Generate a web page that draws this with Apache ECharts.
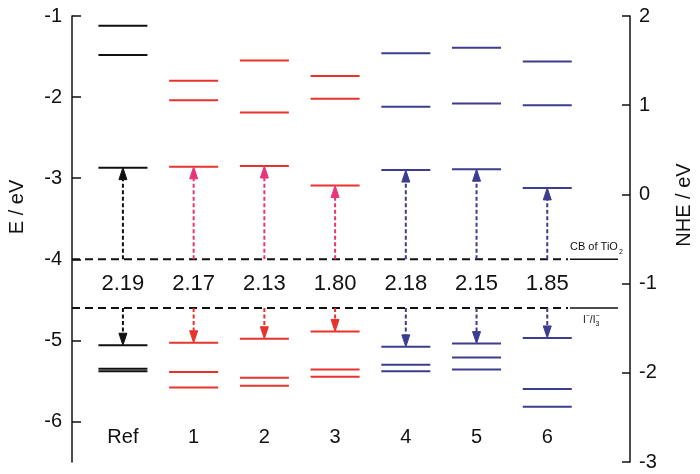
<!DOCTYPE html>
<html>
<head>
<meta charset="utf-8">
<script src="https://cdn.jsdelivr.net/npm/echarts@6/dist/echarts.min.js"></script>
<style>html,body{margin:0;padding:0;background:#fff}#c{width:700px;height:474px}</style>
</head>
<body>
<div id="c"></div>
<script>
// ---- data (energies in eV) ----
const categories = ['Ref', '1', '2', '3', '4', '5', '6'];
const upperLevels = [[-1.12, -1.48], [-1.80, -2.04], [-1.55, -2.19], [-1.74, -2.02], [-1.46, -2.12], [-1.39, -2.08], [-1.56, -2.10]];
const lumo = [-2.87, -2.86, -2.85, -3.09, -2.90, -2.89, -3.12];
const homo = [-5.06, -5.03, -4.98, -4.89, -5.08, -5.04, -4.97];
const lowerLevels = [[-5.35, -5.38], [-5.39, -5.58], [-5.46, -5.56], [-5.36, -5.45], [-5.30, -5.38], [-5.21, -5.36], [-5.60, -5.82]];
const gapLabels = ['2.19', '2.17', '2.13', '1.80', '2.18', '2.15', '1.85'];
const tio2CB = -4.0;
const redoxLevel = -4.6;
const leftTicks = [-6, -5, -4, -3, -2, -1];

// ---- styles ----
const FONT = '"Liberation Sans", Arial, sans-serif';
function lineColor(i) { return i === 0 ? '#111111' : (i <= 3 ? '#e8332c' : '#3d3d90'); }
function upColor(i) { return i === 0 ? '#111111' : (i <= 3 ? '#e8357a' : '#3d3d90'); }
function downColor(i) { return i === 0 ? '#111111' : (i <= 3 ? '#e8332c' : '#3d3d90'); }

const levelData = [];
categories.forEach((c, i) => {
  upperLevels[i].forEach(e => levelData.push([i, e]));
  levelData.push([i, lumo[i]]);
  levelData.push([i, homo[i]]);
  lowerLevels[i].forEach(e => levelData.push([i, e]));
});
const upArrows = categories.map((c, i) => [i, tio2CB, lumo[i]]);
const downArrows = categories.map((c, i) => [i, redoxLevel, homo[i]]);
const gapData = categories.map((c, i) => [i, (tio2CB + redoxLevel) / 2]);
const catLabelData = categories.map((c, i) => [i, -6.2]);
const refLines = [[0, tio2CB], [1, redoxLevel]];

const HALF = 24.5;

function arrowItem(colorFn, dir) {
  return function (params, api) {
    const i = api.value(0);
    const p0 = api.coord([i, api.value(1)]);
    const p1 = api.coord([i, api.value(2)]);
    const x = p0[0];
    const head = 12, hw = 4;
    const baseY = dir === 'up' ? p1[1] + head : p1[1] - head;
    const col = colorFn(i);
    return {
      type: 'group',
      children: [
        { type: 'line', shape: { x1: x, y1: p0[1], x2: x, y2: baseY },
          style: { stroke: col, lineWidth: 2, lineDash: [4, 2.5] } },
        { type: 'polygon', shape: { points: [[x, p1[1]], [x - hw, baseY], [x + hw, baseY]] },
          style: { fill: col, stroke: col, lineWidth: 1 } }
      ]
    };
  };
}

const chart = echarts.init(document.getElementById('c'), null, { renderer: 'canvas' });
const option = {
  backgroundColor: '#ffffff',
  animation: false,
  grid: { left: 72, right: 70, top: 16, bottom: 12 },
  xAxis: { type: 'value', min: -0.72, max: 7.17, show: false },
  yAxis: [
    {
      type: 'value', position: 'left', min: -6.5, max: -1,
      splitLine: { show: false },
      axisLine: { show: true, onZero: false, lineStyle: { color: '#111', width: 1.5 } },
      axisTick: { show: true, inside: true, length: 9, customValues: leftTicks, lineStyle: { color: '#111', width: 1.5 } },
      axisLabel: { customValues: leftTicks, color: '#111', fontSize: 20, fontFamily: FONT, margin: 10 }
    },
    {
      type: 'value', position: 'right', min: -3, max: 2, interval: 1,
      splitLine: { show: false },
      axisLine: { show: true, onZero: false, lineStyle: { color: '#111', width: 1.5 } },
      axisTick: { show: true, inside: true, length: 8, lineStyle: { color: '#111', width: 1.5 } },
      axisLabel: { color: '#111', fontSize: 20, fontFamily: FONT, margin: 9 }
    }
  ],
  graphic: [
    { type: 'text', x: 17, y: 207, rotation: Math.PI / 2,
      style: { text: 'E / eV', font: '20px ' + FONT, fill: '#111', align: 'center', verticalAlign: 'middle' } },
    { type: 'text', x: 684, y: 205, rotation: Math.PI / 2,
      style: { text: 'NHE / eV', font: '20px ' + FONT, fill: '#111', align: 'center', verticalAlign: 'middle' } }
  ],
  series: [
    {
      type: 'custom', name: 'refLines', data: refLines, encode: { x: 0, y: 1 }, clip: false, z: 2,
      renderItem: function (params, api) {
        const k = api.value(0);
        const y = api.coord([0, api.value(1)])[1];
        const cs = params.coordSys;
        const xL = cs.x, xR = cs.x + cs.width;
        const children = [
          { type: 'line', shape: { x1: xL, y1: y, x2: xR - 62, y2: y }, style: { stroke: '#111', lineWidth: 2, lineDash: [8, 5] } },
          { type: 'line', shape: { x1: xR - 60, y1: y, x2: xR - 12, y2: y }, style: { stroke: '#111', lineWidth: 1.5 } }
        ];
        if (k === 0) {
          children.push({ type: 'text', x: xR - 60, y: y - 4, style: {
            text: '{n|CB of TiO}{s|2}', fill: '#111', align: 'left', verticalAlign: 'bottom',
            rich: { n: { fontSize: 11, fontFamily: FONT, fill: '#111' }, s: { fontSize: 7, fontFamily: FONT, fill: '#111', padding: [9, 0, 0, 1] } }
          } });
        } else {
          children.push({ type: 'text', x: xR - 47, y: y + 4, style: {
            text: '{n|I}{p|−}{n|/I}{p|−}{s|3}', fill: '#111', align: 'left', verticalAlign: 'top',
            rich: { n: { fontSize: 10, fontFamily: FONT, fill: '#111' }, p: { fontSize: 7, fontFamily: FONT, fill: '#111', padding: [0, 0, 7, 0] }, s: { fontSize: 7, fontFamily: FONT, fill: '#111', padding: [9, 0, 0, -4] } }
          } });
        }
        return { type: 'group', children: children };
      }
    },
    {
      type: 'custom', name: 'levels', data: levelData, encode: { x: 0, y: 1 }, z: 3,
      renderItem: function (params, api) {
        const i = api.value(0);
        const p = api.coord([i, api.value(1)]);
        return { type: 'line', shape: { x1: p[0] - HALF, y1: p[1], x2: p[0] + HALF, y2: p[1] },
          style: { stroke: lineColor(i), lineWidth: 2 } };
      }
    },
    { type: 'custom', name: 'up', data: upArrows, encode: { x: 0, y: [1, 2] }, z: 4, renderItem: arrowItem(upColor, 'up') },
    { type: 'custom', name: 'down', data: downArrows, encode: { x: 0, y: [1, 2] }, z: 4, renderItem: arrowItem(downColor, 'down') },
    {
      type: 'custom', name: 'gaps', data: gapData, encode: { x: 0, y: 1 }, z: 5,
      renderItem: function (params, api) {
        const i = api.value(0);
        const p = api.coord([i, api.value(1)]);
        return { type: 'text', x: p[0], y: p[1], style: { text: gapLabels[i], font: '22px ' + FONT, fill: '#111', align: 'center', verticalAlign: 'middle' } };
      }
    },
    {
      type: 'custom', name: 'cats', data: catLabelData, encode: { x: 0, y: 1 }, z: 5,
      renderItem: function (params, api) {
        const i = api.value(0);
        const p = api.coord([i, api.value(1)]);
        return { type: 'text', x: p[0], y: p[1], style: { text: categories[i], font: '20px ' + FONT, fill: '#111', align: 'center', verticalAlign: 'middle' } };
      }
    }
  ]
};
chart.setOption(option);
</script>
</body>
</html>
